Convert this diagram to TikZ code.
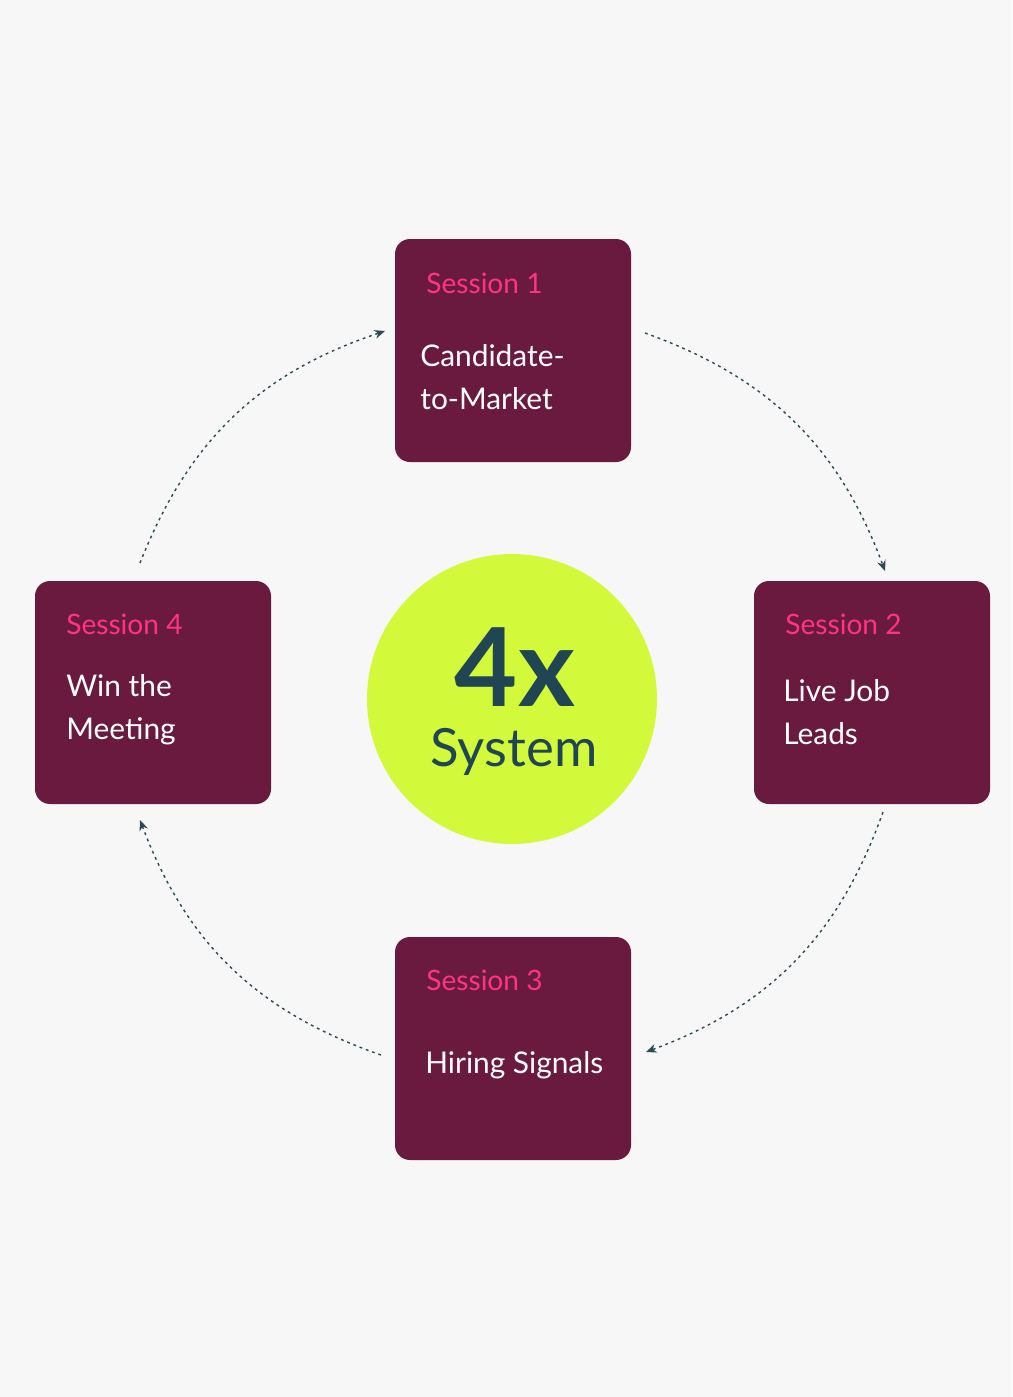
\documentclass[tikz,border=0pt]{standalone}
\usepackage{fontspec}
\setmainfont{Lato}
\usetikzlibrary{arrows.meta}
\definecolor{bg}{HTML}{F7F7F7}
\definecolor{box}{HTML}{6B1A3F}
\definecolor{pinkl}{HTML}{FF3385}
\definecolor{lime}{HTML}{D2FA3A}
\definecolor{teal}{HTML}{1F4652}
\definecolor{arr}{HTML}{2A4A55}
\begin{document}
\begin{tikzpicture}[x=0.02cm,y=-0.02cm,
  sbox/.style={fill=box,rounded corners=0.3cm},
  lab/.style={anchor=base west,text=pinkl,font=\fontsize{16}{19}\selectfont,inner sep=0},
  body/.style={anchor=base west,text=white,font=\fontsize{17}{24}\selectfont,inner sep=0,align=left},
  conn/.style={draw=arr,line width=0.8pt,dash pattern=on 1.6pt off 2.2pt,-{Stealth[length=6pt,width=5pt]}}]
\fill[bg] (0,0) rectangle (1012,1397);
\path[use as bounding box] (0,0) rectangle (1012,1397);
\fill[sbox] (395,239) rectangle (631,462);
\fill[sbox] (754,581) rectangle (990,804);
\fill[sbox] (395,937) rectangle (631,1160);
\fill[sbox] (35,581) rectangle (271,804);
\node[circle,fill=lime,minimum size=5.8cm,inner sep=0] (c) at (512,699) {};
\node[anchor=base,text=teal,font=\fontsize{62}{62}\selectfont\bfseries,inner sep=0] (fx) at (515,706) {4x};
\node[anchor=base,text=teal,font=\fontsize{30}{30}\selectfont,inner sep=0] (sy) at (514,766) {System};
\node[lab] (l1) at (426,293) {Session 1};
\node[lab] (l2) at (785,634) {Session 2};
\node[lab] (l3) at (426,990) {Session 3};
\node[lab] (l4) at (66,634) {Session 4};
\node[body] (b1) at (420,409) {Candidate-\\to-Market};
\node[body] (b2) at (783,744) {Live Job\\Leads};
\node[body] (b3) at (425,1073) {Hiring Signals};
\node[body] (b4) at (66,739) {Win the\\Meeting};
\coordinate (a1s) at (645,333); \coordinate (a1e) at (885,571);
\coordinate (a2s) at (883,812); \coordinate (a2e) at (646,1052);
\coordinate (a3s) at (381,1055); \coordinate (a3e) at (140,820);
\coordinate (a4s) at (140,563); \coordinate (a4e) at (385,331);
\draw[conn] (a1s) to[bend left=25] (a1e);
\draw[conn] (a2s) to[bend left=25] (a2e);
\draw[conn] (a3s) to[bend left=25] (a3e);
\draw[conn] (a4s) to[bend left=25] (a4e);
\end{tikzpicture}
\end{document}
